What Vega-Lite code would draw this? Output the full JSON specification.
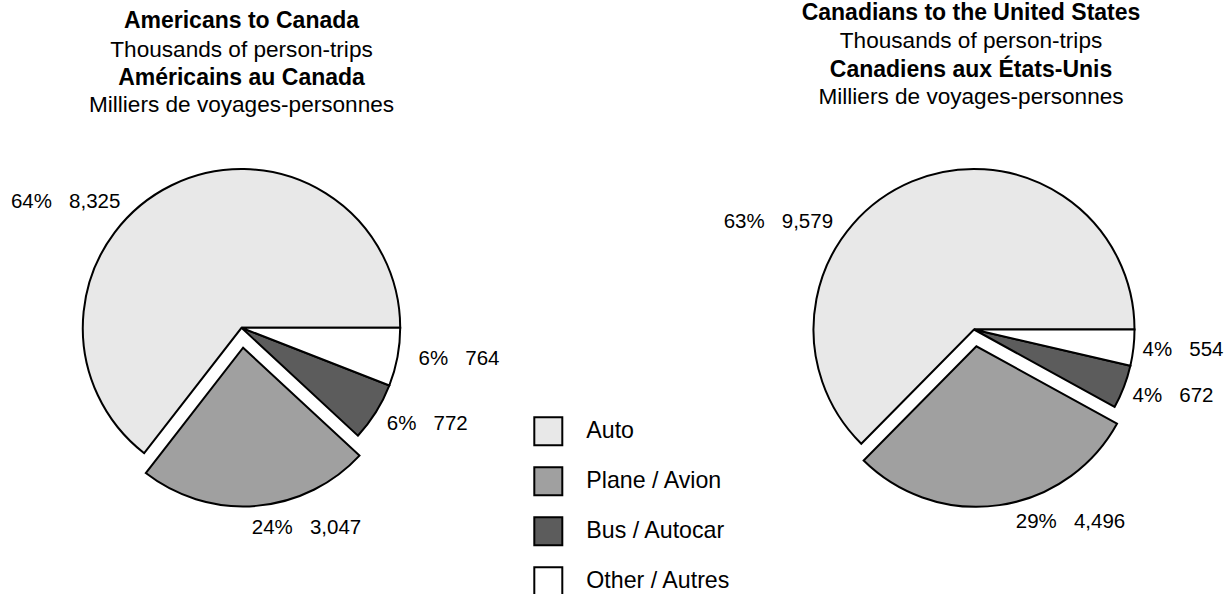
{
  "$schema": "https://vega.github.io/schema/vega-lite/v6.json",
  "padding": {"left": 0, "top": 1.5, "right": 0, "bottom": 0},
  "background": "white",
  "data": {"values": [
    {"trip": "Americans to Canada", "mode": "Auto", "value": 8325, "pct": 64},
    {"trip": "Americans to Canada", "mode": "Plane / Avion", "value": 3047, "pct": 24},
    {"trip": "Americans to Canada", "mode": "Bus / Autocar", "value": 772, "pct": 6},
    {"trip": "Americans to Canada", "mode": "Other / Autres", "value": 764, "pct": 6},
    {"trip": "Canadians to the United States", "mode": "Auto", "value": 9579, "pct": 63},
    {"trip": "Canadians to the United States", "mode": "Plane / Avion", "value": 4496, "pct": 29},
    {"trip": "Canadians to the United States", "mode": "Bus / Autocar", "value": 672, "pct": 4},
    {"trip": "Canadians to the United States", "mode": "Other / Autres", "value": 554, "pct": 4}
  ]},
  "columns": 2,
  "align": "each",
  "bounds": "flush",
  "spacing": {"row": 43, "column": 249.5},
  "resolve": {"scale": {"theta": "independent"}},
  "concat": [
    {
      "width": 483, "height": 20,
      "title": {"text": "Americans to Canada", "subtitle": "Thousands of person-trips", "offset": 1.25},
      "mark": {"type": "text"},
      "encoding": {"text": {"value": ""}}
    },
    {
      "width": 483, "height": 20,
      "title": {"text": "Canadians to the United States", "subtitle": "Thousands of person-trips", "offset": 9.7, "dx": -3},
      "mark": {"type": "text"},
      "encoding": {"text": {"value": ""}}
    },
    {
      "width": 483, "height": 404.6,
      "title": {"text": "Américains au Canada", "subtitle": "Milliers de voyages-personnes", "offset": 8.5, "subtitlePadding": 4.3},
      "transform": [
        {"filter": "datum.trip === 'Americans to Canada'"},
        {"calculate": "indexof(['Other / Autres','Bus / Autocar','Plane / Avion','Auto'], datum.mode)", "as": "ord"},
        {"calculate": "datum.pct + '%\u00a0\u00a0\u00a0' + format(datum.value, ',')", "as": "label"}
      ],
      "encoding": {
        "theta": {"field": "value", "type": "quantitative", "stack": true, "scale": {"range": [1.5707963, 7.8539816]}},
        "order": {"field": "ord", "type": "quantitative"}
      },
      "layer": [
        {
          "mark": {"type": "arc", "outerRadius": 158.7, "stroke": "black", "strokeWidth": 2, "strokeJoin": "miter",
            "xOffset": {"expr": "datum.mode === 'Plane / Avion' ? 1.6 : 0"},
            "yOffset": {"expr": "datum.mode === 'Plane / Avion' ? 19.9 : 0"}},
          "encoding": {
            "color": {"field": "mode", "type": "nominal",
              "scale": {"domain": ["Auto", "Plane / Avion", "Bus / Autocar", "Other / Autres"], "range": ["#e8e8e8", "#a0a0a0", "#5c5c5c", "#ffffff"]},
              "legend": {"title": null, "orient": "none", "legendX": 533.3, "legendY": 353.8, "symbolType": "square", "symbolSize": 784,
                "symbolStrokeColor": "black", "symbolStrokeWidth": 2, "symbolOpacity": 1, "labelFont": "Liberation Sans", "labelFontSize": 23.2,
                "labelColor": "black", "labelOffset": 23, "rowPadding": 14, "padding": 0}}
          }
        },
        {
          "mark": {"type": "text", "radius": 185, "font": "Liberation Sans", "fontSize": 20.5, "color": "black", "align": "center", "baseline": "middle",
            "dx": {"expr": "datum.mode === 'Auto' ? -94.5 : datum.mode === 'Plane / Avion' ? 49.9 : datum.mode === 'Bus / Autocar' ? 29 : 35.7"},
            "dy": {"expr": "datum.mode === 'Auto' ? 40.5 : datum.mode === 'Plane / Avion' ? 15.5 : datum.mode === 'Bus / Autocar' ? -2.5 : -3.5"}},
          "encoding": {"text": {"field": "label"}, "detail": {"field": "mode"}}
        }
      ]
    },
    {
      "width": 483, "height": 408,
      "title": {"text": "Canadiens aux États-Unis", "subtitle": "Milliers de voyages-personnes", "offset": 16.5, "subtitlePadding": 4.3, "dx": -3},
      "transform": [
        {"filter": "datum.trip === 'Canadians to the United States'"},
        {"calculate": "indexof(['Other / Autres','Bus / Autocar','Plane / Avion','Auto'], datum.mode)", "as": "ord"},
        {"calculate": "datum.pct + '%\u00a0\u00a0\u00a0' + format(datum.value, ',')", "as": "label"}
      ],
      "encoding": {
        "theta": {"field": "value", "type": "quantitative", "stack": true, "scale": {"range": [1.5707963, 7.8539816]}},
        "order": {"field": "ord", "type": "quantitative"}
      },
      "layer": [
        {
          "mark": {"type": "arc", "outerRadius": 160.5, "stroke": "black", "strokeWidth": 2, "strokeJoin": "miter",
            "xOffset": {"expr": "datum.mode === 'Plane / Avion' ? 2.4 : 0"},
            "yOffset": {"expr": "datum.mode === 'Plane / Avion' ? 16.8 : 0"}},
          "encoding": {
            "color": {"field": "mode", "type": "nominal",
              "scale": {"domain": ["Auto", "Plane / Avion", "Bus / Autocar", "Other / Autres"], "range": ["#e8e8e8", "#a0a0a0", "#5c5c5c", "#ffffff"]},
              "legend": {"title": null, "orient": "none", "legendX": 533.3, "legendY": 353.8, "symbolType": "square", "symbolSize": 784,
                "symbolStrokeColor": "black", "symbolStrokeWidth": 2, "symbolOpacity": 1, "labelFont": "Liberation Sans", "labelFontSize": 23.2,
                "labelColor": "black", "labelOffset": 23, "rowPadding": 14, "padding": 0}}
          }
        },
        {
          "mark": {"type": "text", "radius": 185, "font": "Liberation Sans", "fontSize": 20.5, "color": "black", "align": "center", "baseline": "middle",
            "dx": {"expr": "datum.mode === 'Auto' ? -124.3 : datum.mode === 'Plane / Avion' ? 69.9 : datum.mode === 'Bus / Autocar' ? 26.2 : 25.2"},
            "dy": {"expr": "datum.mode === 'Auto' ? 62.7 : datum.mode === 'Plane / Avion' ? 9.4 : datum.mode === 'Bus / Autocar' ? -0.1 : -0.5"}},
          "encoding": {"text": {"field": "label"}, "detail": {"field": "mode"}}
        }
      ]
    }
  ],
  "config": {
    "view": {"stroke": null},
    "font": "Liberation Sans",
    "title": {"font": "Liberation Sans", "fontSize": 23, "fontWeight": "bold", "color": "black",
      "subtitleFont": "Liberation Sans", "subtitleFontSize": 22.6, "subtitleColor": "black", "subtitlePadding": 5.3,
      "anchor": "middle", "frame": "group"}
  }
}
